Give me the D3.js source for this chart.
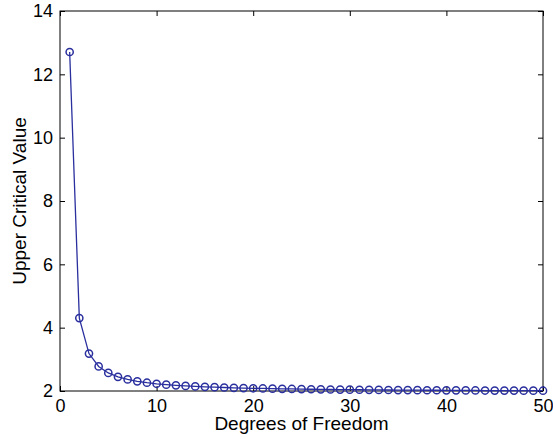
<!DOCTYPE html>
<html>
<head>
<meta charset="utf-8">
<script src="https://cdn.jsdelivr.net/npm/d3@7"></script>
<style>
  body { margin: 0; background: #fff; }
  text { font-family: "Liberation Sans", Arial, sans-serif; }
</style>
</head>
<body>
<div id="chart"></div>
<script>
// degrees of freedom and upper critical values (t, 0.975)
const dof = d3.range(1, 51);
const critVals = [12.706, 4.303, 3.182, 2.776, 2.571, 2.447, 2.365, 2.306, 2.262, 2.228,
    2.201, 2.179, 2.160, 2.145, 2.131, 2.120, 2.110, 2.101, 2.093, 2.086,
    2.080, 2.074, 2.069, 2.064, 2.060, 2.056, 2.052, 2.048, 2.045, 2.042,
    2.040, 2.037, 2.035, 2.032, 2.030, 2.028, 2.026, 2.024, 2.023, 2.021,
    2.020, 2.018, 2.017, 2.015, 2.014, 2.013, 2.012, 2.011, 2.010, 2.009];
const xTicks = [0, 10, 20, 30, 40, 50];
const yTicks = [2, 4, 6, 8, 10, 12, 14];

const width = 553, height = 439;
const margin = {top: 11, right: 10, bottom: 48, left: 60};
const color = '#2a2f9e';
const tickFs = 18, titleFs = 19;

const svg = d3.select('#chart').append('svg')
    .attr('width', width)
    .attr('height', height);

const x = d3.scaleLinear().domain([0, 50]).range([margin.left, width - margin.right]);
const y = d3.scaleLinear().domain([2, 14]).range([height - margin.bottom, margin.top]);

const pts = dof.map((d, i) => ({x: d, y: critVals[i]}));

// frame
svg.append('rect')
    .attr('x', x(0)).attr('y', y(14))
    .attr('width', x(50) - x(0)).attr('height', y(2) - y(14))
    .attr('fill', 'none').attr('stroke', '#000').attr('stroke-width', 1);

const tl = 5;
const xAxis = svg.append('g').attr('transform', `translate(0,${y(2)})`)
    .call(d3.axisBottom(x).tickValues(xTicks).tickSize(-tl).tickPadding(tl + 3).tickFormat(d3.format('d')));
const xAxisTop = svg.append('g').attr('transform', `translate(0,${y(14)})`)
    .call(d3.axisTop(x).tickValues(xTicks).tickSize(-tl).tickFormat(''));
const yAxis = svg.append('g').attr('transform', `translate(${x(0)},0)`)
    .call(d3.axisLeft(y).tickValues(yTicks).tickSize(-tl).tickPadding(tl + 2).tickFormat(d3.format('d')));
const yAxisRight = svg.append('g').attr('transform', `translate(${x(50)},0)`)
    .call(d3.axisRight(y).tickValues(yTicks).tickSize(-tl).tickFormat(''));

[xAxis, xAxisTop, yAxis, yAxisRight].forEach(g => {
    g.select('.domain').remove();
    g.selectAll('line').attr('stroke', '#000');
    g.selectAll('text').attr('font-size', tickFs).attr('fill', '#000')
        .style('font-family', '"Liberation Sans", Arial, sans-serif');
});

const lineFunction = d3.line()
    .x(d => x(d.x))
    .y(d => y(d.y));

svg.append('path')
    .attr('d', lineFunction(pts))
    .attr('stroke', color)
    .attr('stroke-width', 1.3)
    .attr('fill', 'none');

svg.selectAll('circle.pt').data(pts).enter().append('circle')
    .attr('class', 'pt')
    .attr('cx', d => x(d.x))
    .attr('cy', d => y(d.y))
    .attr('r', 3.6)
    .attr('fill', 'none')
    .attr('stroke', color)
    .attr('stroke-width', 1.5);

svg.append('text')
    .attr('x', (x(0) + x(50)) / 2)
    .attr('y', 430)
    .attr('text-anchor', 'middle')
    .attr('font-size', titleFs)
    .text('Degrees of Freedom');

svg.append('text')
    .attr('transform', `translate(26,${(y(2) + y(14)) / 2}) rotate(-90)`)
    .attr('text-anchor', 'middle')
    .attr('font-size', titleFs)
    .text('Upper Critical Value');
</script>
</body>
</html>
